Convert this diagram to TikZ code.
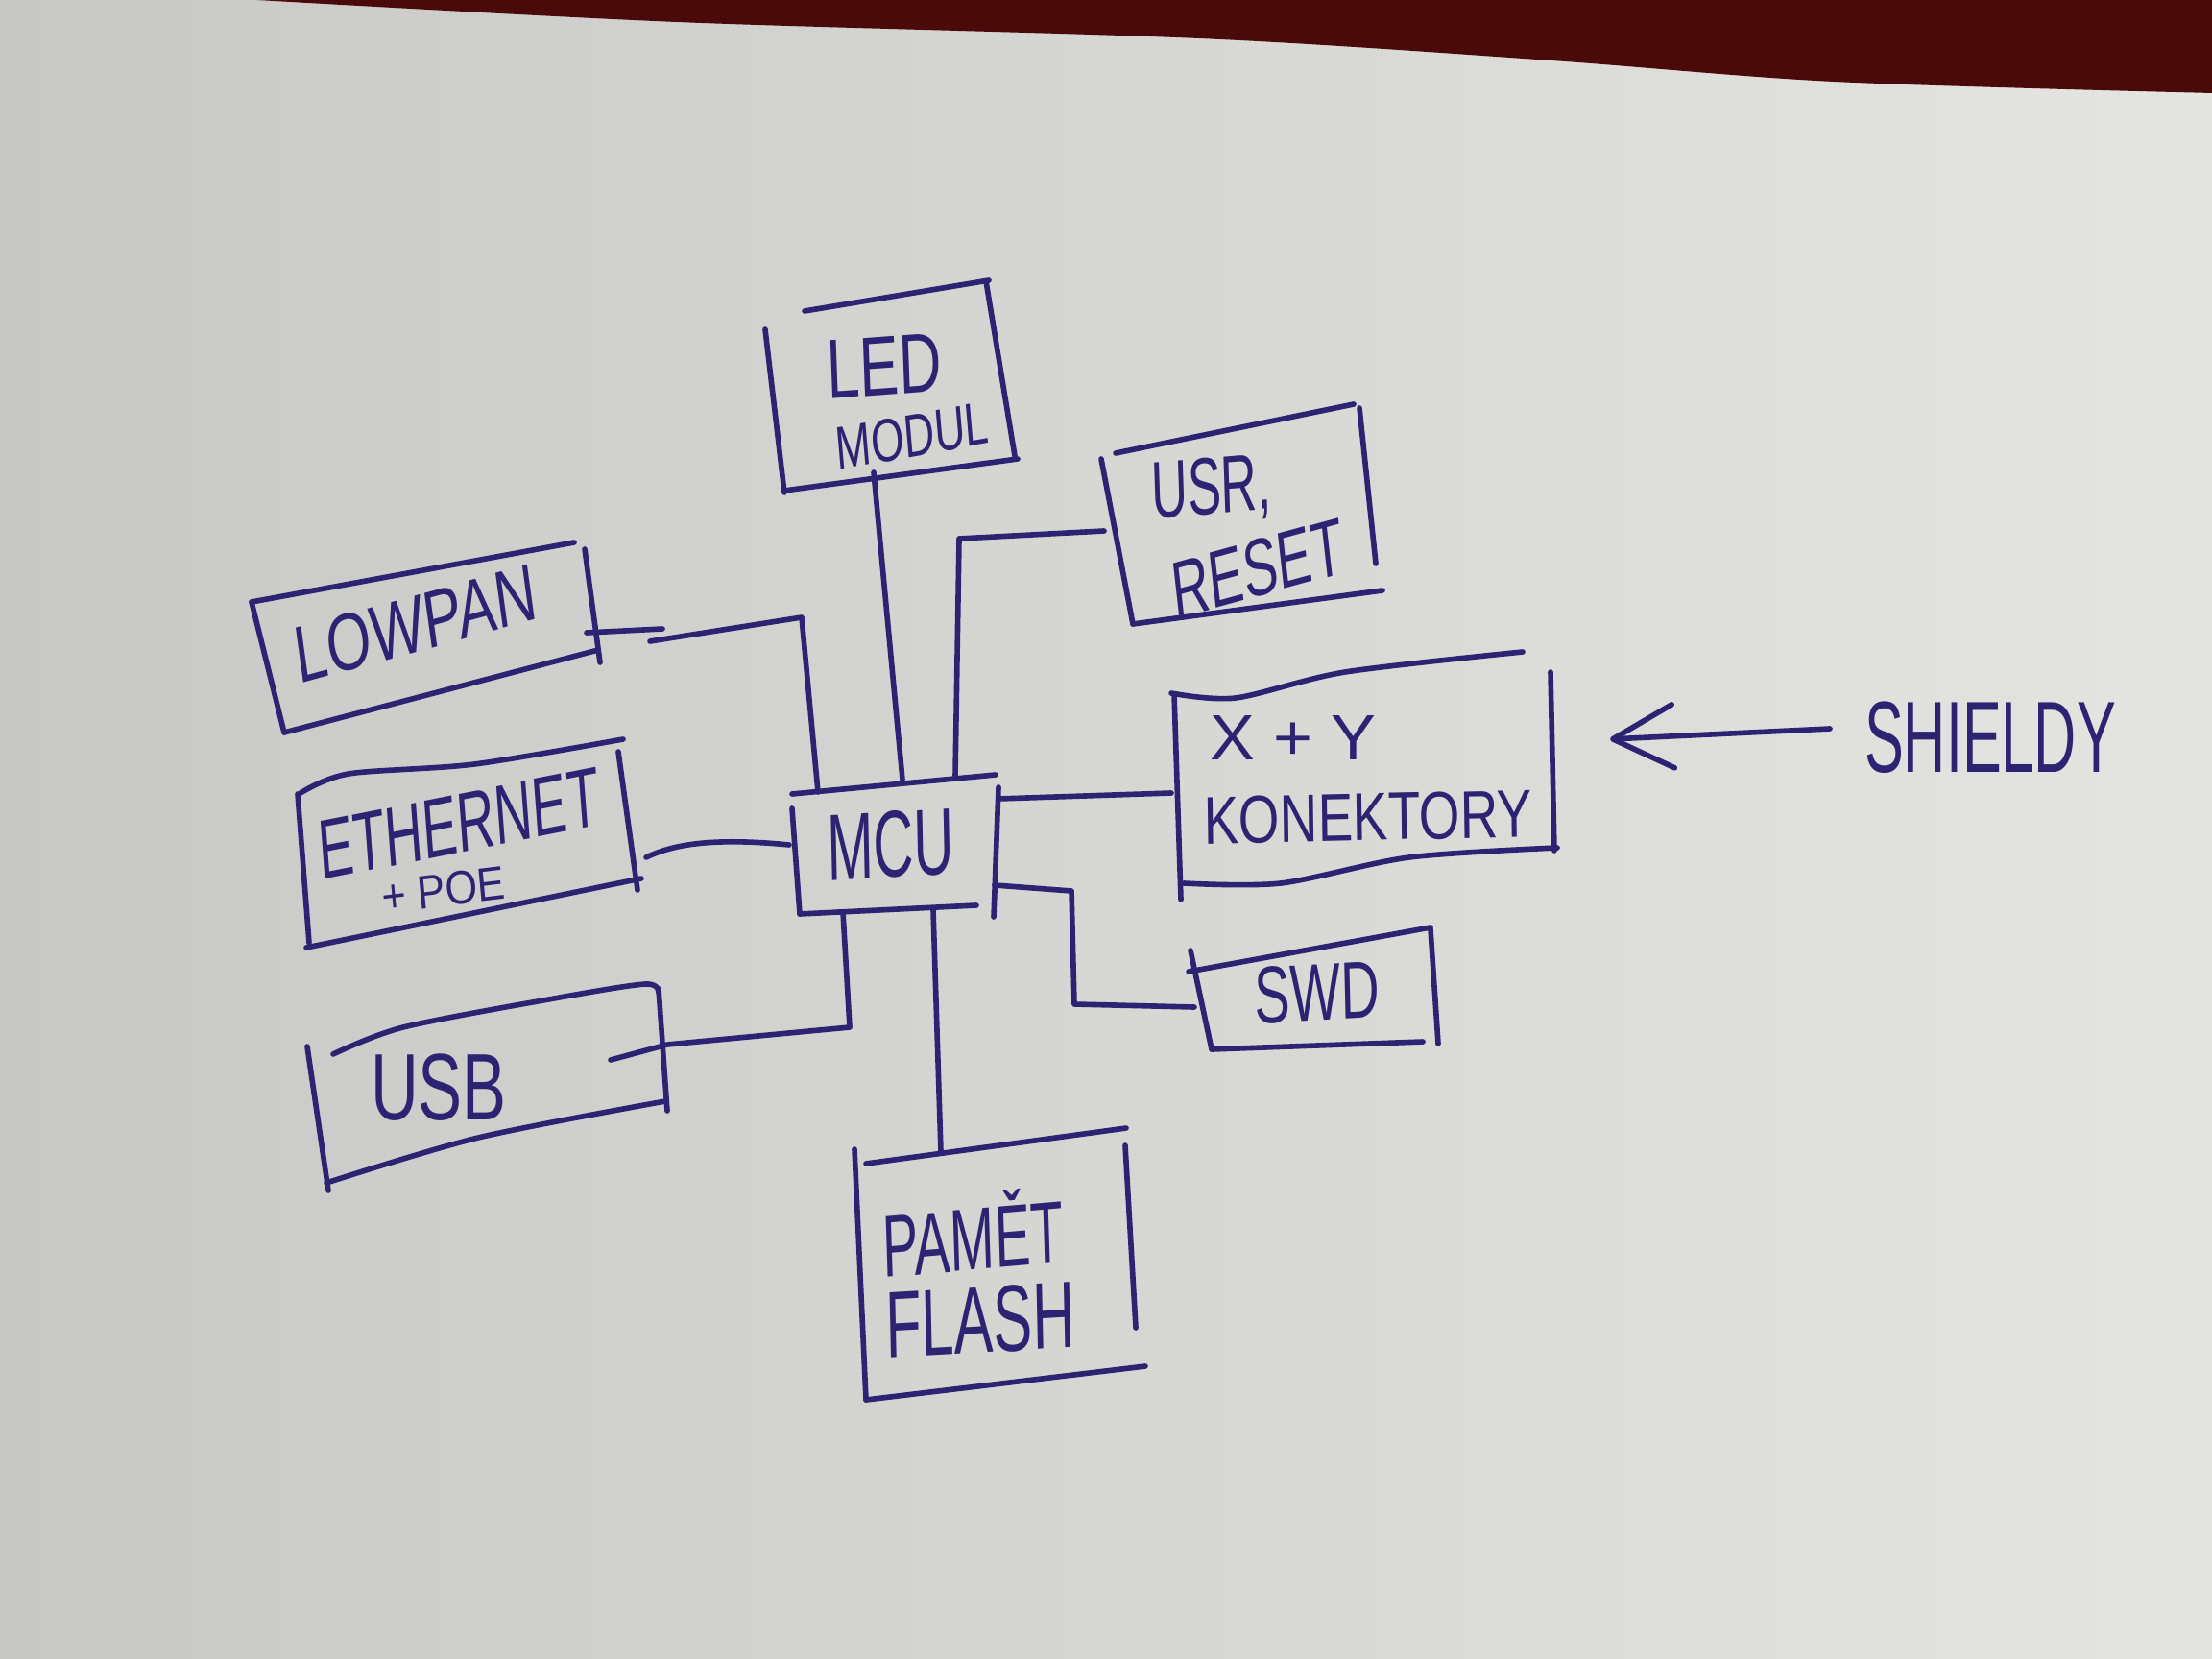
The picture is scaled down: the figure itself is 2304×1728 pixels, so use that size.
\documentclass[tikz,border=0pt]{standalone}
\usepackage{fontspec}
\setmainfont{Liberation Sans}
\usetikzlibrary{arrows.meta}
\definecolor{ink}{RGB}{45,35,115}
\definecolor{paperL}{RGB}{200,200,198}
\definecolor{paperR}{RGB}{228,228,224}
\definecolor{tablered}{RGB}{74,10,10}
\begin{document}
\begin{tikzpicture}[x=0.01cm,y=-0.01cm,
  pen/.style={draw=ink,line width=1.6pt,line cap=round,line join=round},
  lbl/.style={text=ink,inner sep=0pt},
  fs/.style={font=\fontsize{#1}{#1}\selectfont}]
\useasboundingbox (0,0) rectangle (2304,1728);
\shade[left color=paperL, right color=paperR] (0,0) rectangle (2304,1728);
\fill[tablered] plot[smooth] coordinates {(250,-1)(705,23)(1249,40)(1616,63)(1910,85)(2305,97)} -- (2305,-1) -- cycle;

% ---------- boxes ----------
% LED MODUL
\draw[pen] (838,324) -- (1030,292);
\draw[pen] (797,343) -- (817,513);
\draw[pen] (817,511) -- (1060,478);
\draw[pen] (1027,293) -- (1057,475);
% USR, RESET
\draw[pen] (1162,472) -- (1410,421);
\draw[pen] (1147,478) -- (1180,650);
\draw[pen] (1180,650) -- (1440,615);
\draw[pen] (1416,425) -- (1433,587);
% LOWPAN
\draw[pen] (262,627) -- (598,565);
\draw[pen] (262,627) -- (296,763);
\draw[pen] (296,763) -- (623,677);
\draw[pen] (609,572) -- (625,690);
% ETHERNET
\draw[pen] plot[smooth] coordinates {(313,826)(363,806)(494,796)(649,770)};
\draw[pen] (310,827) -- (322,982);
\draw[pen] (319,987) -- (668,915);
\draw[pen] (644,783) -- (664,927);
% MCU
\draw[pen] (825,827) -- (1037,807);
\draw[pen] (1040,820) -- (1035,955);
\draw[pen] (833,952) -- (1017,943);
\draw[pen] (825,842) -- (833,952);
% USB
\draw[pen] plot[smooth] coordinates {(347,1098)(420,1070)(577,1040)(672,1025)(686,1034)};
\draw[pen] (686,1030) -- (695,1157);
\draw[pen] plot[smooth] coordinates {(340,1232)(498,1185)(693,1147)};
\draw[pen] (320,1090) -- (342,1240);
% PAMET FLASH
\draw[pen] (902,1212) -- (1173,1175);
\draw[pen] (1172,1193) -- (1183,1383);
\draw[pen] (902,1458) -- (1193,1423);
\draw[pen] (890,1197) -- (902,1458);
% X + Y KONEKTORY
\draw[pen] plot[smooth] coordinates {(1220,722)(1287,727)(1401,700)(1586,679)};
\draw[pen] (1615,700) -- (1619,886);
\draw[pen] plot[smooth] coordinates {(1233,920)(1334,920)(1468,893)(1622,883)};
\draw[pen] (1223,723) -- (1230,937);
% SWD
\draw[pen] (1238,1012) -- (1490,966);
\draw[pen] (1490,968) -- (1498,1087);
\draw[pen] (1262,1093) -- (1482,1085);
\draw[pen] (1240,990) -- (1262,1093);

% ---------- labels ----------
\node[lbl,fs=25pt,xscale=0.7,rotate=3] (led) at (921,381) {LED};
\node[lbl,fs=18pt,xscale=0.7,rotate=7] (modul) at (950,454) {MODUL};
\node[lbl,fs=24pt,xscale=0.62,rotate=3] (usr) at (1262,511) {USR,};
\node[lbl,fs=24pt,xscale=0.64,rotate=10] (reset) at (1310,592) {RESET};
\node[lbl,fs=24pt,xscale=0.71,rotate=11] (lowpan) at (433,650) {LOWPAN};
\node[lbl,fs=25pt,xscale=0.62,rotate=7] (eth) at (478,858) {ETHERNET};
\node[lbl,fs=14pt,xscale=0.88,rotate=6] (poe) at (462,927) {+ POE};
\node[lbl,fs=28pt,xscale=0.59,rotate=2] (mcu) at (928,880) {MCU};
\node[lbl,fs=28pt,xscale=0.7] (usb) at (457,1133) {USB};
\node[lbl,fs=26pt,xscale=0.61,rotate=3] (pamet) at (1013,1283) {PAMĚT};
\node[lbl,fs=28pt,xscale=0.62,rotate=2] (flash) at (1021,1375) {FLASH};
\node[lbl,fs=19pt,xscale=1.05] (xy) at (1347,769) {X + Y};
\node[lbl,fs=20pt,xscale=0.78,rotate=1] (konek) at (1425,851) {KONEKTORY};
\node[lbl,fs=24pt,xscale=0.66,rotate=2] (swd) at (1372,1034) {SWD};
\node[lbl,fs=30pt,xscale=0.58] (shieldy) at (2073,768) {SHIELDY};

% ---------- connection points ----------
\coordinate (ledB) at (910,492);
\coordinate (mcuT2) at (940,812);
\coordinate (usrL) at (1150,553);
\coordinate (mcuT3) at (995,808);
\coordinate (lowR) at (611,659);
\coordinate (mcuT1) at (852,825);
\coordinate (ethR) at (673,893);
\coordinate (mcuL) at (822,880);
\coordinate (usbIn) at (636,1104);
\coordinate (mcuB1) at (878,950);
\coordinate (mcuB2) at (972,948);
\coordinate (flashT) at (980,1200);
\coordinate (mcuR1) at (1040,832);
\coordinate (xyL) at (1220,826);
\coordinate (mcuR2) at (1036,922);
\coordinate (swdL) at (1244,1049);
\coordinate (ashaft) at (1906,759);
\coordinate (atip) at (1677,770);

% ---------- connectors ----------
\draw[pen] (ledB) -- (mcuT2);
\draw[pen] (usrL) -- (999,561) -- (mcuT3);
\draw[pen] (lowR) -- (690,655);
\draw[pen] (677,668) -- (835,643) -- (mcuT1);
\draw[pen] (ethR) .. controls (700,880) and (740,872) .. (mcuL);
\draw[pen] (usbIn) -- (695,1088) -- (885,1070) -- (mcuB1);
\draw[pen] (mcuB2) -- (flashT);
\draw[pen] (mcuR1) -- (xyL);
\draw[pen] (mcuR2) -- (1116,928) -- (1119,1046) -- (swdL);
\draw[pen,-{Straight Barb[length=6.3mm,width=6.6mm,round]}] (ashaft) -- (atip);
\end{tikzpicture}
\end{document}
